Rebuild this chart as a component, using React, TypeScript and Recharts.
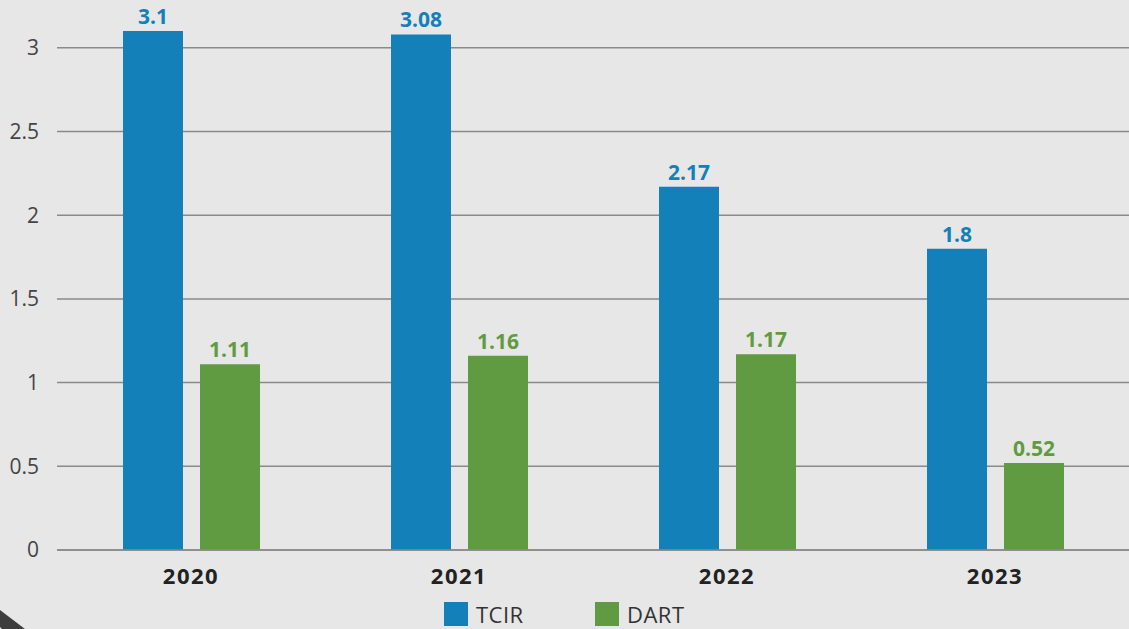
import { BarChart, Bar, XAxis, YAxis, CartesianGrid, Legend, LabelList } from 'recharts';

const years = ['2020', '2021', '2022', '2023'];
const tcir = [3.1, 3.08, 2.17, 1.8];
const dart = [1.11, 1.16, 1.17, 0.52];
const yTicks = [0, 0.5, 1, 1.5, 2, 2.5, 3];

const BLUE = '#1380b9';
const GREEN = '#619b41';
const FONT = '"Open Sans", Lato, sans-serif';

const data = years.map((year, i) => ({ year, tcir: tcir[i], dart: dart[i] }));

const series = [
  { key: 'tcir', name: 'TCIR', color: BLUE },
  { key: 'dart', name: 'DART', color: GREEN },
];

function LegendBox() {
  return (
    <div style={{ height: 30, position: 'relative', fontFamily: FONT }}>
      {series.map((s, i) => (
        <div
          key={s.key}
          style={{
            position: 'absolute',
            left: i === 0 ? 445 : 596,
            top: 3,
            height: 24,
            display: 'flex',
            alignItems: 'center',
            gap: 8,
          }}
        >
          <span style={{ width: 24, height: 24, background: s.color, display: 'inline-block' }} />
          <span style={{ fontSize: 22, color: '#333', lineHeight: '22px', letterSpacing: 0.5 }}>{s.name}</span>
        </div>
      ))}
    </div>
  );
}

export default function App() {
  return (
    <div style={{ position: 'fixed', left: 0, top: 0, width: 1129, height: 629, background: '#e7e7e7', overflow: 'hidden' }}>
      <BarChart
        width={1129}
        height={629}
        data={data}
        margin={{ top: 6, right: 0, left: -1, bottom: 0 }}
        barSize={60}
        barGap={17}
      >
        <CartesianGrid vertical={false} horizontalValues={yTicks} stroke="#8a8a8a" strokeWidth={1.5} />
        <XAxis
          dataKey="year"
          height={49}
          axisLine={{ stroke: '#8a8a8a', strokeWidth: 1.5 }}
          tickLine={false}
          tickMargin={12}
          tick={{ fill: '#222', fontSize: 22, fontWeight: 700, fontFamily: FONT, letterSpacing: 1.5 }}
        />
        <YAxis
          width={58}
          domain={[0, 3.25]}
          ticks={yTicks}
          axisLine={false}
          tickLine={false}
          tickMargin={12}
          tick={{ fill: '#444', fontSize: 21, fontFamily: FONT }}
        />
        <Legend verticalAlign="bottom" content={() => <LegendBox />} />
        {series.map(s => (
          <Bar key={s.key} dataKey={s.key} name={s.name} fill={s.color} isAnimationActive={false}>
            <LabelList
              dataKey={s.key}
              position="top"
              offset={7}
              style={{ fill: s.color, fontSize: 21, fontWeight: 700, fontFamily: FONT }}
            />
          </Bar>
        ))}
      </BarChart>
      <svg width={40} height={40} style={{ position: 'absolute', left: 0, bottom: 0 }}>
        <polygon points="0,21 25,40 2,40 0,38" fill="#3d3d3d" />
      </svg>
    </div>
  );
}
